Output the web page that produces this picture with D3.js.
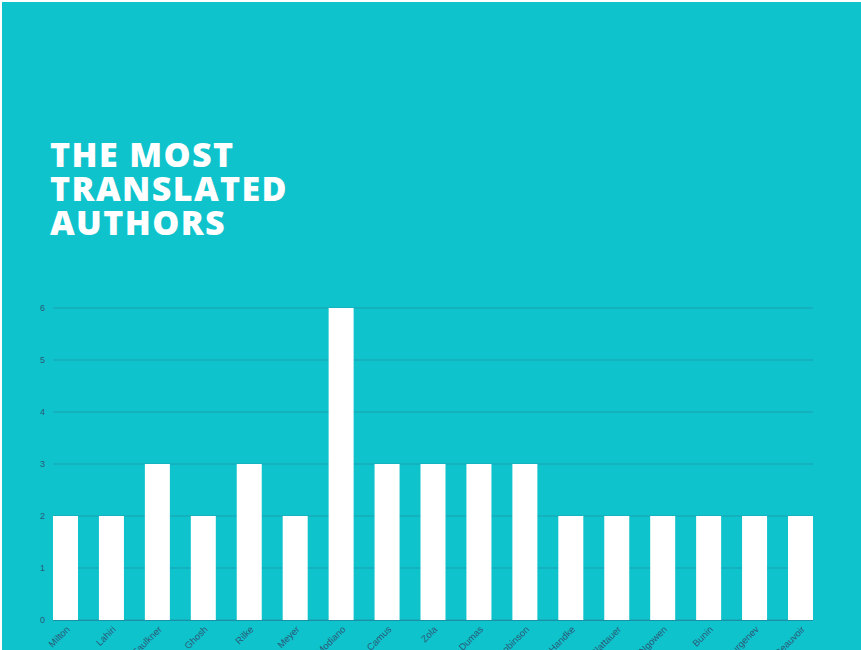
<!DOCTYPE html>
<html><head><meta charset="utf-8">
<script src="https://cdn.jsdelivr.net/npm/d3@7"></script>
<style>
html,body{margin:0;padding:0;background:#fff;overflow:hidden;}
</style></head>
<body>
<script>
const authors = ["Milton","Lahiri","Faulkner","Ghosh","Rilke","Meyer","Modiano","Camus","Zola","Dumas","Robinson","Handke","Glattauer","Ngowen","Bunin","Turgenev","Beauvoir"];
const translations = [2,2,3,2,3,2,6,3,3,3,3,2,2,2,2,2,2];
const yTicks = [0,1,2,3,4,5,6];
const titleLines = ["THE MOST","TRANSLATED","AUTHORS"];

const W = 861, H = 650;
const svg = d3.select("body").append("svg").attr("width", W).attr("height", H);
svg.append("rect").attr("x",2).attr("y",2).attr("width",W-2).attr("height",H-2).attr("fill","#0fc3cc");

const title = svg.append("text").attr("x",51).attr("fill","#fff")
  .attr("font-family","Open Sans").attr("font-weight",800).attr("font-size",34)
  .attr("letter-spacing",1.4);
titleLines.forEach((t,i)=>{
  title.append("tspan").attr("x",50).attr("y",167+i*34).text(t);
});

const x = d3.scaleBand().domain(authors).range([53,813]).paddingInner(0.456).paddingOuter(0);
const y = d3.scaleLinear().domain([0,6]).range([620,308]);

const grid = svg.append("g");
grid.selectAll("line").data(yTicks).join("line")
  .attr("x1",53).attr("x2",813).attr("y1",d=>y(d)).attr("y2",d=>y(d))
  .attr("stroke","#1a9fb2").attr("stroke-width",1);

const yAxis = svg.append("g").attr("transform","translate(45,0)")
  .call(d3.axisLeft(y).tickValues(yTicks).tickSize(0).tickPadding(0).tickFormat(d3.format("d")));
yAxis.select(".domain").remove();
yAxis.selectAll("text").attr("font-family","Liberation Sans, Arial").attr("font-size",9).attr("fill","#2a5a78");

svg.append("g").selectAll("rect").data(authors).join("rect")
  .attr("x",d=>x(d)).attr("width",x.bandwidth())
  .attr("y",(d,i)=>y(translations[i])).attr("height",(d,i)=>y(0)-y(translations[i]))
  .attr("fill","#fff");

svg.append("line").attr("x1",53).attr("x2",813).attr("y1",y(0)+0.5).attr("y2",y(0)+0.5)
  .attr("stroke","#1a8fa8").attr("stroke-width",1);

const xAxis = svg.append("g").attr("transform",`translate(0,${y(0)})`)
  .call(d3.axisBottom(x).tickSize(0).tickPadding(0));
xAxis.select(".domain").remove();
xAxis.selectAll("text")
  .attr("font-family","Liberation Sans, Arial").attr("font-size",9.5).attr("fill","#2a5a78")
  .attr("text-anchor","end").attr("dy",0)
  .attr("transform","translate(5,10) rotate(-45)");
</script>
</body></html>
